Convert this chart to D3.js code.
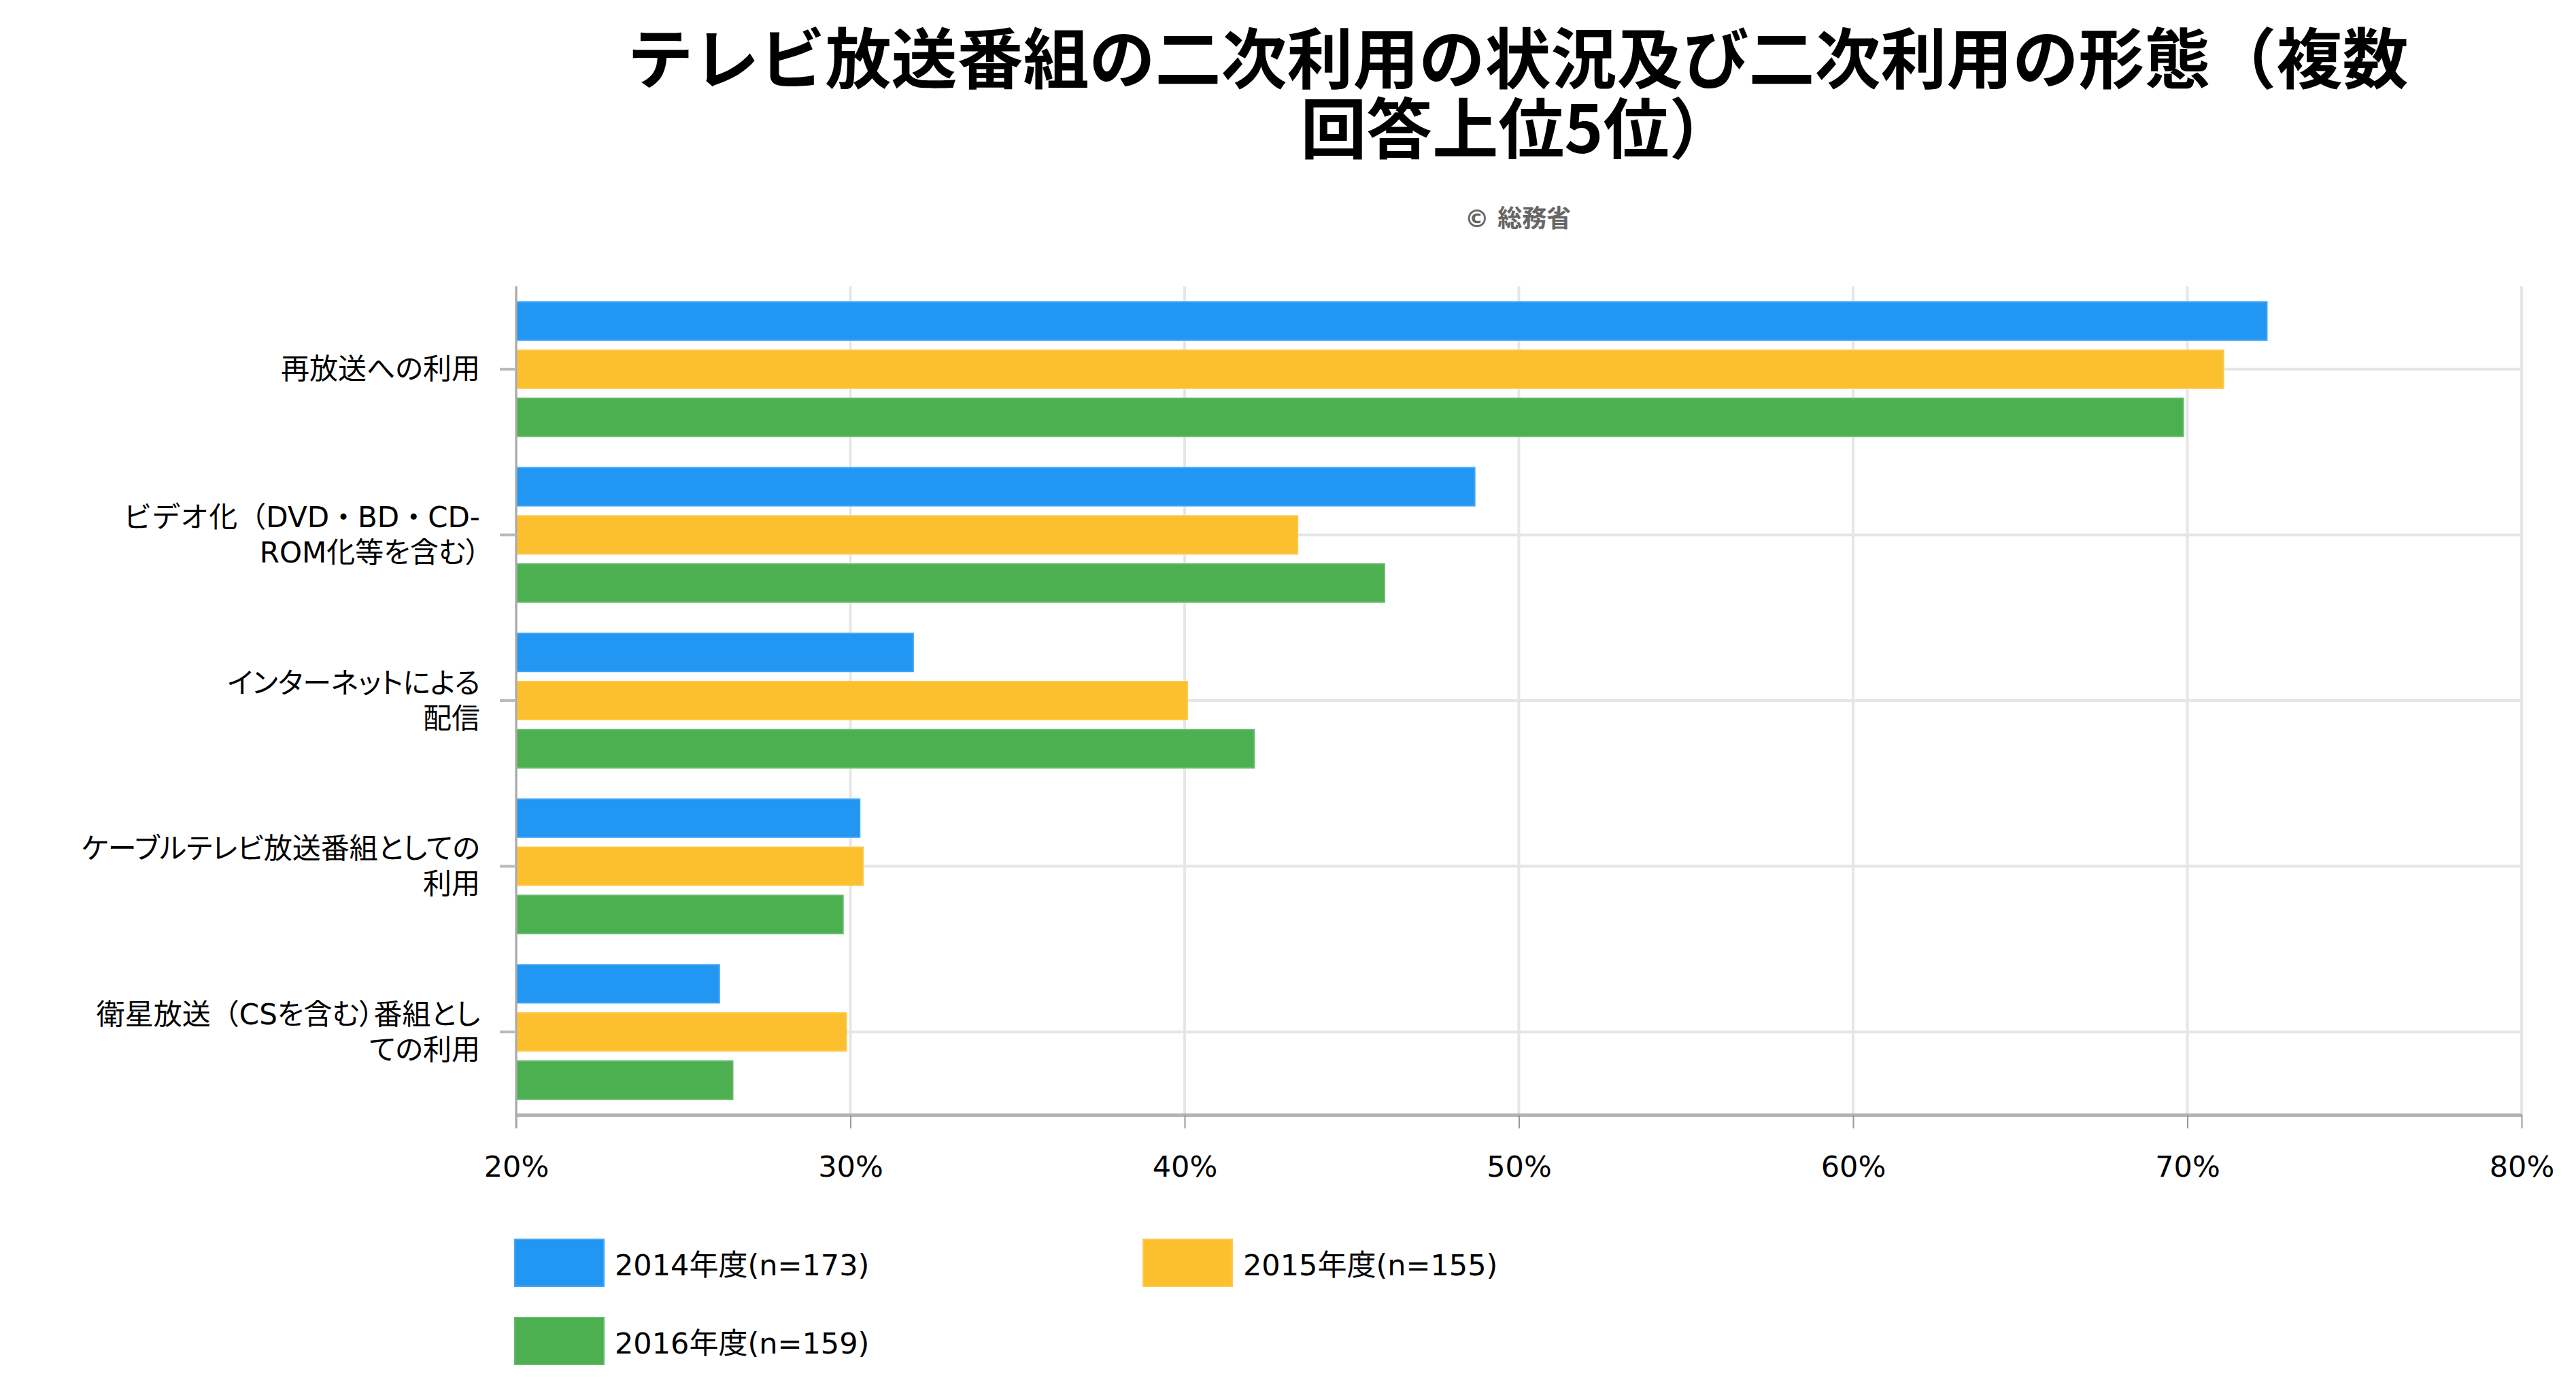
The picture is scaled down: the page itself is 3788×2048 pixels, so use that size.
<!DOCTYPE html>
<html>

<head>
    <meta charset="UTF-8">
    <title>テレビ放送番組の二次利用</title>
    <script src="https://d3js.org/d3.v7.min.js"></script>
    <style>
        body { margin: 0; background: #fff; }
        text { font-family: "DejaVu Sans", "Noto Sans CJK JP", sans-serif; }
        .palt { font-feature-settings: "palt"; }
        .full { font-feature-settings: normal; }
    </style>
</head>

<body>
    <div id="chart"></div>
    <script type="text/javascript">
        // data
        const categories = [
            "再放送への利用",
            "ビデオ化（DVD・BD・CD-ROM化等を含む）",
            "インターネットによる配信",
            "ケーブルテレビ放送番組としての利用",
            "衛星放送（CSを含む）番組としての利用"
        ];
        const categoryLines = [
            ["再放送への利用"],
            ["ビデオ化（DVD・BD・CD-", "ROM化等を含む）"],
            ["インターネットによる", "配信"],
            ["ケーブルテレビ放送番組としての", "利用"],
            ["衛星放送（CSを含む）番組とし", "ての利用"]
        ];
        const seriesNames = ["2014年度(n=173)", "2015年度(n=155)", "2016年度(n=159)"];
        const values2014 = [72.4, 48.7, 31.9, 30.3, 26.1];
        const values2015 = [71.1, 43.4, 40.1, 30.4, 29.9];
        const values2016 = [69.9, 46.0, 42.1, 29.8, 26.5];
        const xTicks = [20, 30, 40, 50, 60, 70, 80];
        const colors = ["#2196f3", "#fcc02e", "#4caf50"];

        const seriesValues = [values2014, values2015, values2016];

        const width = 3788;
        const height = 2048;
        const plotLeft = 759, plotRight = 3708, plotTop = 421, plotBottom = 1639;
        const centerX = 2232;

        const svg = d3.select("#chart")
            .append("svg")
            .attr("width", width)
            .attr("height", height);

        svg.append("rect").attr("width", width).attr("height", height).attr("fill", "#fff");

        const x = d3.scaleLinear().domain([20, 80]).range([plotLeft, plotRight]);
        const y = d3.scaleBand().domain(categories).range([plotTop, plotBottom]);
        const ySub = d3.scaleBand().domain(seriesNames).range([0, y.bandwidth()])
            .paddingInner(0.18).paddingOuter(0.31);

        // title
        svg.append("text")
            .attr("x", centerX).attr("y", 122)
            .attr("text-anchor", "middle")
            .style("font-family", "'Noto Sans CJK JP'")
            .style("font-size", "97px").style("font-weight", 700)
            .text("テレビ放送番組の二次利用の状況及び二次利用の形態（複数");
        svg.append("text")
            .attr("x", centerX).attr("y", 225)
            .attr("text-anchor", "middle")
            .style("font-family", "'Noto Sans CJK JP'")
            .style("font-size", "97px").style("font-weight", 700)
            .text("回答上位5位）");
        svg.append("text")
            .attr("x", centerX).attr("y", 334)
            .attr("text-anchor", "middle")
            .style("font-size", "36px").style("font-weight", 700)
            .attr("fill", "#666")
            .text("© 総務省");

        // grid lines
        svg.append("g").selectAll("line")
            .data(xTicks)
            .enter().append("line")
            .attr("x1", d => x(d)).attr("x2", d => x(d))
            .attr("y1", plotTop).attr("y2", plotBottom)
            .attr("stroke", "#e6e6e6").attr("stroke-width", 4);
        svg.append("g").selectAll("line")
            .data(categories)
            .enter().append("line")
            .attr("x1", plotLeft).attr("x2", plotRight)
            .attr("y1", d => y(d) + y.bandwidth() / 2)
            .attr("y2", d => y(d) + y.bandwidth() / 2)
            .attr("stroke", "#e6e6e6").attr("stroke-width", 4);

        // bars
        const groups = svg.append("g").selectAll("g.cat")
            .data(categories)
            .enter().append("g")
            .attr("class", "cat")
            .attr("transform", d => "translate(0," + y(d) + ")");
        groups.selectAll("rect")
            .data((d, i) => seriesNames.map((s, j) => ({ series: s, value: seriesValues[j][i], color: colors[j] })))
            .enter().append("rect")
            .attr("x", x(20))
            .attr("y", d => ySub(d.series))
            .attr("width", d => x(d.value) - x(20))
            .attr("height", ySub.bandwidth())
            .attr("fill", d => d.color)
            .attr("stroke", "#fff").attr("stroke-opacity", 0.15).attr("stroke-width", 4);

        // x axis
        const xAxis = svg.append("g")
            .attr("transform", "translate(0," + plotBottom + ")")
            .call(d3.axisBottom(x).tickValues(xTicks).tickFormat(d => d + "%")
                .tickSize(20).tickSizeOuter(0).tickPadding(40));
        xAxis.select(".domain").attr("stroke", "#b3b3b3").attr("stroke-width", 5);
        xAxis.selectAll(".tick line").attr("stroke", "#999").attr("stroke-width", 2);
        xAxis.selectAll(".tick text")
            .style("font-size", "43px").attr("fill", "#000")
            .style("font-family", "'DejaVu Sans'");

        // y axis
        const yAxis = svg.append("g")
            .attr("transform", "translate(" + plotLeft + ",0)")
            .call(d3.axisLeft(y).tickSize(24).tickSizeOuter(0).tickFormat(""));
        yAxis.select(".domain").attr("stroke", "#aaa").attr("stroke-width", 3)
            .attr("d", "M0," + plotTop + "V" + (plotBottom + 20));
        yAxis.selectAll(".tick line").attr("stroke", "#bbb").attr("stroke-width", 4);

        // category labels: proportional kana, but keep the opening paren full width
        function runs(line) {
            if (line.indexOf("・") >= 0) return [{ t: line, cls: "full" }];
            const out = [];
            line.split(/(（)/).filter(s => s.length).forEach(s => {
                out.push({ t: s, cls: s === "（" ? "full" : "palt" });
            });
            return out;
        }

        const labels = svg.append("g").selectAll("text")
            .data(categories)
            .enter().append("text")
            .attr("text-anchor", "end")
            .style("font-size", "42px")
            .attr("fill", "#000");
        labels.each(function (d, i) {
            const lines = categoryLines[i];
            const cy = y(d) + y.bandwidth() / 2;
            const t = d3.select(this);
            lines.forEach((line, k) => {
                runs(line).forEach((r, n) => {
                    const span = t.append("tspan")
                        .attr("class", r.cls)
                        .attr("dominant-baseline", "central")
                        .text(r.t);
                    if (n === 0) {
                        span.attr("x", 706)
                            .attr("y", cy + (k - (lines.length - 1) / 2) * 52);
                    }
                });
            });
        });

        // legend
        const legend = svg.append("g").selectAll("g")
            .data(seriesNames)
            .enter().append("g")
            .attr("transform", (d, i) => "translate(" + (756 + (i % 2) * 924) + "," + (1821 + Math.floor(i / 2) * 115) + ")");
        legend.append("rect")
            .attr("width", 133).attr("height", 71)
            .attr("fill", (d, i) => colors[i])
            .attr("stroke", "#fff").attr("stroke-opacity", 0.15).attr("stroke-width", 4);
        legend.append("text")
            .attr("x", 148).attr("y", 54)
            .style("font-size", "43px")
            .attr("fill", "#000")
            .text(d => d);
    </script>
</body>

</html>
